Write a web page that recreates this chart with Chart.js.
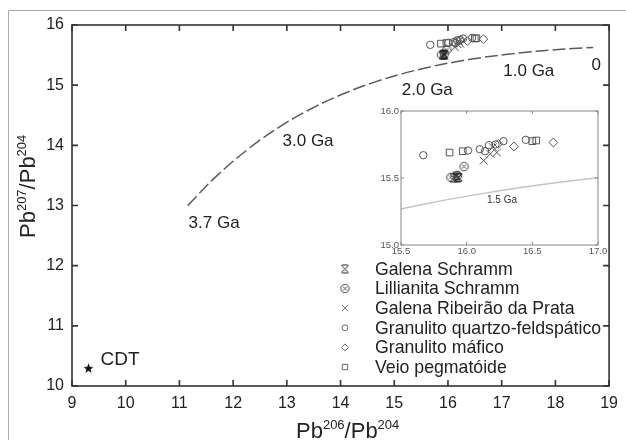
<!DOCTYPE html>
<html>
<head>
<meta charset="utf-8">
<script src="https://cdn.jsdelivr.net/npm/chart.js@4.4.0/dist/chart.umd.min.js"></script>
<style>
  body { margin: 0; background: #fff; }
  #wrap { position: relative; width: 626px; height: 440px; }
  #main { position: absolute; left: 0; top: 0; }
  #inset { position: absolute; left: 360px; top: 95px; }
</style>
</head>
<body>
<div id="wrap">
  <canvas id="main" width="626" height="440"></canvas>
  <canvas id="inset" width="250" height="175"></canvas>
</div>
<script>
// curva de evolução do Pb (Stacey & Kramers), de 3.7 Ga até hoje
const curveAge = [3.7, 3.5, 3.25, 3.0, 2.75, 2.5, 2.25, 2.0, 1.75, 1.5, 1.25, 1.0, 0.75, 0.5, 0.25, 0];
const curveX = [11.152, 11.680, 12.318, 12.931, 13.521, 14.089, 14.635, 15.160, 15.665, 16.151, 16.619, 17.069, 17.501, 17.918, 18.318, 18.703];
const curveY = [12.998, 13.480, 13.964, 14.343, 14.639, 14.870, 15.051, 15.192, 15.303, 15.389, 15.457, 15.510, 15.551, 15.583, 15.608, 15.628];

// amostras
const galenaSchrammX = [15.90, 15.92, 15.93, 15.94];
const galenaSchrammY = [15.500, 15.515, 15.500, 15.505];
const lillianitaX = [15.88, 15.93, 15.98];
const lillianitaY = [15.505, 15.520, 15.585];
const galenaRPX = [16.13, 16.18, 16.23, 16.20];
const galenaRPY = [15.630, 15.680, 15.690, 15.730];
const granQFX = [15.67, 16.01, 16.10, 16.14, 16.17, 16.22, 16.28, 16.45];
const granQFY = [15.670, 15.705, 15.715, 15.700, 15.745, 15.750, 15.775, 15.785];
const granMaficoX = [16.24, 16.36, 16.66];
const granMaficoY = [15.755, 15.735, 15.765];
const veioX = [15.87, 15.97, 16.50, 16.53];
const veioY = [15.690, 15.700, 15.775, 15.780];
const cdtX = [9.307];
const cdtY = [10.294];

const serieNames = [
  "Galena Schramm",
  "Lillianita Schramm",
  "Galena Ribeirão da Prata",
  "Granulito quartzo-feldspático",
  "Granulito máfico",
  "Veio pegmatóide",
];

// rótulos de idade sobre a curva (âncoras em coordenadas de dados)
const ageLabels = ["3.7 Ga", "3.0 Ga", "2.0 Ga", "1.0 Ga", "0"];
const ageLabelAt = [[11.17, 12.63], [12.92, 13.99], [15.14, 14.84], [17.03, 15.15], [18.67, 15.25]];

const FONT = "'Liberation Sans', Arial, sans-serif";
const INK = "#222";

function toPts(xs, ys) {
  return xs.map((x, i) => ({ x: x, y: ys[i] }));
}

function makeMarker(size, draw) {
  const c = document.createElement("canvas");
  c.width = size;
  c.height = size;
  draw(c.getContext("2d"), size);
  return c;
}

// X com barras em cima e embaixo
const galenaMark = makeMarker(11, (g, s) => {
  g.strokeStyle = "#222";
  g.lineWidth = 1;
  g.beginPath();
  g.moveTo(2, 2); g.lineTo(s - 2, s - 2);
  g.moveTo(s - 2, 2); g.lineTo(2, s - 2);
  g.moveTo(2.5, 1.5); g.lineTo(s - 2.5, 1.5);
  g.moveTo(2.5, s - 1.5); g.lineTo(s - 2.5, s - 1.5);
  g.stroke();
});

// círculo com X dentro
const lillMark = makeMarker(11, (g, s) => {
  g.strokeStyle = "#444";
  g.lineWidth = 1;
  g.beginPath();
  g.arc(s / 2, s / 2, 4.2, 0, Math.PI * 2);
  g.moveTo(3.5, 3.5); g.lineTo(s - 3.5, s - 3.5);
  g.moveTo(s - 3.5, 3.5); g.lineTo(3.5, s - 3.5);
  g.stroke();
});

// estrela cheia
const starMark = makeMarker(11, (g, s) => {
  g.fillStyle = "#111";
  g.beginPath();
  for (let i = 0; i < 10; i++) {
    const r = i % 2 ? 2.2 : 5.2;
    const a = -Math.PI / 2 + i * Math.PI / 5;
    const px = s / 2 + r * Math.cos(a);
    const py = s / 2 + 0.3 + r * Math.sin(a);
    if (i === 0) g.moveTo(px, py); else g.lineTo(px, py);
  }
  g.closePath();
  g.fill();
});

const markerStyles = [
  { pointStyle: galenaMark, pointRadius: 5 },
  { pointStyle: lillMark, pointRadius: 5 },
  { pointStyle: "crossRot", pointRadius: 5.5, pointBorderColor: "#555", pointBorderWidth: 1 },
  { pointStyle: "circle", pointRadius: 3.7, pointBorderColor: "#555", pointBorderWidth: 1 },
  { pointStyle: "rectRot", pointRadius: 4.4, pointBorderColor: "#555", pointBorderWidth: 1 },
  { pointStyle: "rect", pointRadius: 4.7, pointBorderColor: "#555", pointBorderWidth: 1 },
];
const serieData = [
  [galenaSchrammX, galenaSchrammY],
  [lillianitaX, lillianitaY],
  [galenaRPX, galenaRPY],
  [granQFX, granQFY],
  [granMaficoX, granMaficoY],
  [veioX, veioY],
];

function sampleDatasets() {
  return serieNames.map((name, i) => Object.assign({
    label: name,
    data: toPts(serieData[i][0], serieData[i][1]),
    pointBackgroundColor: "rgba(0,0,0,0)",
    showLine: false,
  }, markerStyles[i]));
}

function curveDataset(color, width, dash) {
  return {
    label: "curva",
    data: toPts(curveX, curveY),
    showLine: true,
    borderColor: color,
    borderWidth: width,
    borderDash: dash,
    pointRadius: 0,
    tension: 0.4,
    fill: false,
  };
}

function axis(min, max, step, fontSize, pad, size, fmt, color) {
  return {
    type: "linear",
    min: min,
    max: max,
    grid: { display: false, drawTicks: false },
    border: { display: false },
    ticks: {
      stepSize: step,
      autoSkip: false,
      maxRotation: 0,
      padding: pad,
      color: color,
      font: { family: FONT, size: fontSize },
      callback: fmt,
    },
    afterFit: size,
  };
}

// moldura com marcas internas nos quatro lados
const boxPlugin = {
  id: "box",
  afterDraw(chart, args, opts) {
    const { ctx, chartArea: a, scales: { x, y } } = chart;
    ctx.save();
    ctx.strokeStyle = opts.color;
    ctx.lineWidth = opts.width;
    ctx.strokeRect(a.left, a.top, a.right - a.left, a.bottom - a.top);
    ctx.beginPath();
    x.ticks.forEach((t) => {
      const px = x.getPixelForValue(t.value);
      ctx.moveTo(px, a.bottom); ctx.lineTo(px, a.bottom - opts.len);
      ctx.moveTo(px, a.top); ctx.lineTo(px, a.top + opts.len);
    });
    y.ticks.forEach((t) => {
      const py = y.getPixelForValue(t.value);
      ctx.moveTo(a.left, py); ctx.lineTo(a.left + opts.len, py);
      ctx.moveTo(a.right, py); ctx.lineTo(a.right - opts.len, py);
    });
    ctx.stroke();
    ctx.restore();
  },
};

function drawRich(ctx, parts, x, y) {
  let cx = x;
  parts.forEach(([txt, sup]) => {
    ctx.font = (sup ? "13px " : "22px ") + FONT;
    ctx.fillText(txt, cx, sup ? y - 9 : y);
    cx += ctx.measureText(txt).width;
  });
}

// textos, legenda e títulos do gráfico principal
const annotPlugin = {
  id: "annot",
  beforeDraw(chart) {
    const ctx = chart.ctx;
    ctx.save();
    ctx.strokeStyle = "#aaa";
    ctx.lineWidth = 1;
    ctx.beginPath();
    ctx.moveTo(8.5, 440); ctx.lineTo(8.5, 10.5); ctx.lineTo(626, 10.5);
    ctx.stroke();
    ctx.restore();
  },
  afterDraw(chart) {
    const { ctx, scales: { x, y } } = chart;
    ctx.save();
    ctx.fillStyle = INK;
    ctx.textAlign = "left";
    ctx.textBaseline = "alphabetic";
    ctx.font = "17px " + FONT;
    ageLabels.forEach((t, i) => {
      ctx.fillText(t, x.getPixelForValue(ageLabelAt[i][0]), y.getPixelForValue(ageLabelAt[i][1]));
    });
    ctx.font = "19px " + FONT;
    ctx.fillText("CDT", x.getPixelForValue(9.53), y.getPixelForValue(10.35));

    // legenda
    const sets = chart.data.datasets.slice(2);
    sets.forEach((ds, i) => {
      const ly = 269 + i * 19.6;
      const st = {
        pointStyle: ds.pointStyle,
        radius: ds.pointRadius * 0.8,
        borderWidth: ds.pointBorderWidth || 1,
      };
      ctx.strokeStyle = "#666";
      ctx.fillStyle = "rgba(0,0,0,0)";
      Chart.helpers.drawPoint(ctx, st, 345, ly);
      ctx.fillStyle = INK;
      ctx.font = "17.7px " + FONT;
      ctx.textBaseline = "middle";
      ctx.fillText(ds.label, 375, ly + 1);
    });

    // títulos dos eixos
    ctx.textBaseline = "alphabetic";
    ctx.fillStyle = INK;
    drawRich(ctx, [["Pb", false], ["206", true], ["/Pb", false], ["204", true]], 296, 438);
    ctx.translate(35, 238);
    ctx.rotate(-Math.PI / 2);
    drawRich(ctx, [["Pb", false], ["207", true], ["/Pb", false], ["204", true]], 0, 0);
    ctx.restore();
  },
};

const insetLabelPlugin = {
  id: "insetLabel",
  afterDraw(chart) {
    const { ctx, scales: { x, y } } = chart;
    ctx.save();
    ctx.fillStyle = "#333";
    ctx.font = "10px " + FONT;
    ctx.fillText("1.5 Ga", x.getPixelForValue(16.155), y.getPixelForValue(15.313));
    ctx.restore();
  },
};

const mainSets = [
  curveDataset("#5a5a5a", 1.5, [13, 4]),
  {
    label: "CDT",
    data: toPts(cdtX, cdtY),
    pointStyle: starMark,
    pointRadius: 5,
    showLine: false,
  },
].concat(sampleDatasets());

new Chart(document.getElementById("main"), {
  type: "scatter",
  data: { datasets: mainSets },
  options: {
    responsive: false,
    animation: false,
    layout: { padding: { top: 25, right: 10, left: 0, bottom: 0 } },
    plugins: {
      legend: { display: false },
      tooltip: { enabled: false },
      box: { color: "#333", width: 1.6, len: 6 },
    },
    scales: {
      x: axis(9, 19, 1, 16, 8, (s) => { s.height = 54; }, (v) => v, INK),
      y: axis(10, 16, 1, 16, 8, (s) => { s.width = 72; }, (v) => v, INK),
    },
  },
  plugins: [boxPlugin, annotPlugin],
});

// detalhe ampliado
new Chart(document.getElementById("inset"), {
  type: "scatter",
  data: { datasets: [curveDataset("#c4c4c4", 1.5, [])].concat(sampleDatasets()) },
  options: {
    responsive: false,
    animation: false,
    layout: { padding: { top: 16, right: 12, left: 0, bottom: 0 } },
    plugins: {
      legend: { display: false },
      tooltip: { enabled: false },
      box: { color: "#888", width: 1, len: 3 },
    },
    scales: {
      x: axis(15.5, 17, 0.5, 9.5, 1, (s) => { s.height = 25; }, (v) => v.toFixed(1), "#555"),
      y: axis(15, 16, 0.5, 9.5, 2, (s) => { s.width = 41; }, (v) => v.toFixed(1), "#555"),
    },
  },
  plugins: [boxPlugin, insetLabelPlugin],
});
</script>
</body>
</html>
